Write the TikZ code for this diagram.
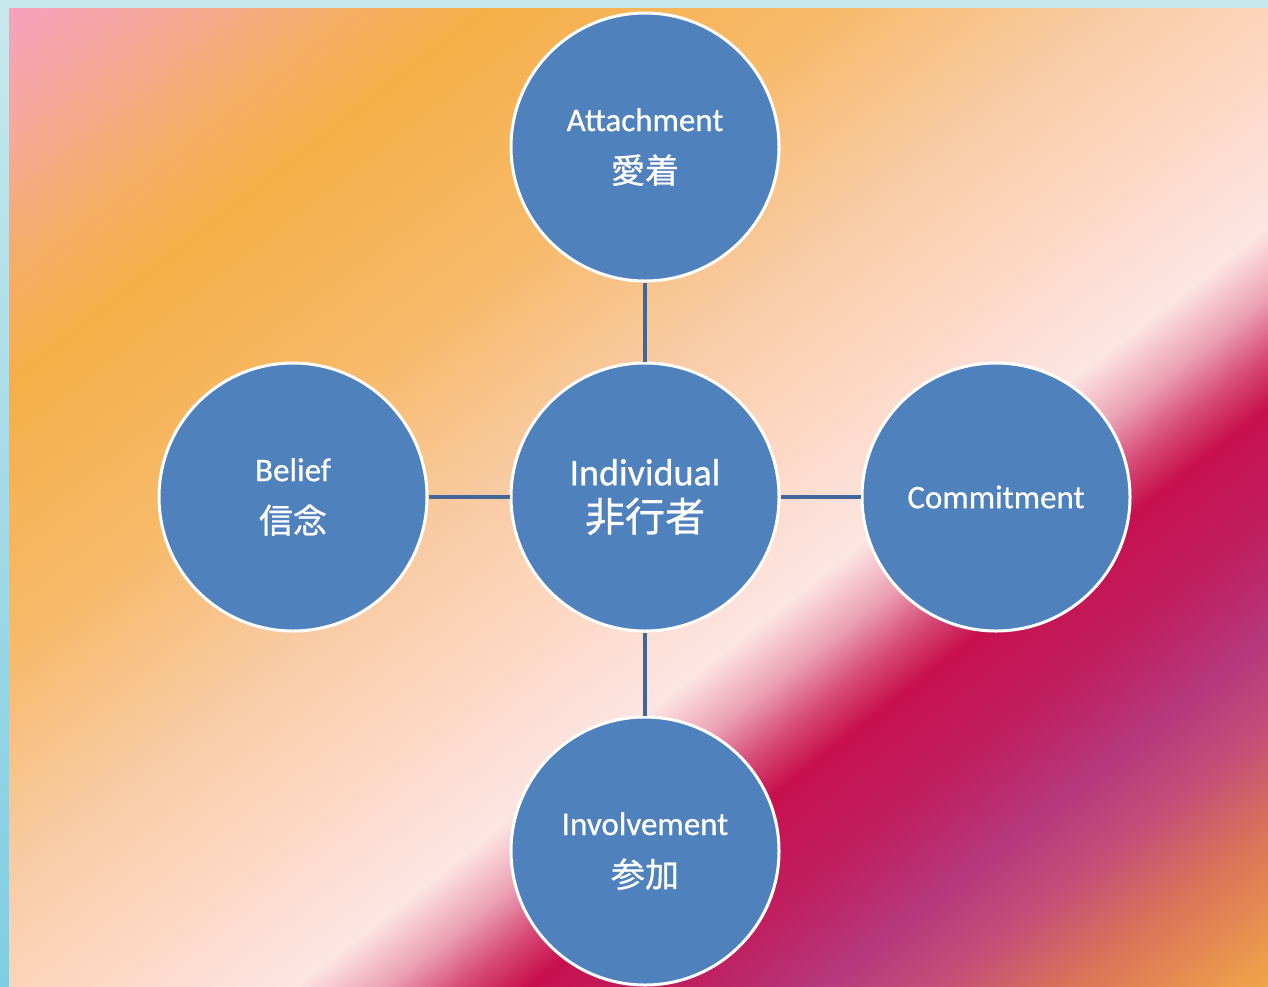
\documentclass[tikz,border=0pt]{standalone}
\usepackage{fontspec}
\setmainfont{Carlito}[FakeBold=0.6]
\newfontfamily\cjk{Noto Sans CJK JP}[FakeBold=0.8]

% background gradient stops
\definecolor{c0}{HTML}{F9A0C4}
\definecolor{c1}{HTML}{F7A89A}
\definecolor{c2}{HTML}{F6AD68}
\definecolor{c3}{HTML}{F6AF48}
\definecolor{c4}{HTML}{F7BA6A}
\definecolor{c5}{HTML}{F9CBA3}
\definecolor{c6}{HTML}{FCD8C4}
\definecolor{c7}{HTML}{FDE5E3}
\definecolor{c8}{HTML}{EBA0B5}
\definecolor{c9}{HTML}{D84E7A}
\definecolor{c10}{HTML}{C8104E}
\definecolor{c11}{HTML}{BF2060}
\definecolor{c12}{HTML}{B6377D}
\definecolor{c13}{HTML}{C54E78}
\definecolor{c14}{HTML}{DA735A}
\definecolor{c15}{HTML}{F0A848}

\definecolor{bubblefill}{HTML}{4F81BD}
\definecolor{linkblue}{HTML}{41679A}
\definecolor{framecyan}{HTML}{C8E8EC}
\definecolor{framecyandark}{HTML}{80CDE2}

\begin{document}
\begin{tikzpicture}[x=1pt,y=-1pt,
  bubble/.style={circle, draw=white, line width=3pt, fill=bubblefill,
    minimum size=268pt, inner sep=0pt, text=white, align=center,
    font=\fontsize{33}{52}\selectfont},
  hub/.style={bubble, font=\fontsize{38}{46}\selectfont},
  link/.style={draw=linkblue, line width=3.5pt}]

\useasboundingbox (0,0) rectangle (1268,986);

% frame strips
\fill[framecyan] (0,0) rectangle (1268,8);
\shade[top color=framecyan, bottom color=framecyandark] (0,0) rectangle (9,986);

% diagonal multi-stop gradient built from thin strips (t = x + 1.28 y)
\begin{scope}
  \clip (9,8) rectangle (1268,986);
  \foreach \ta/\tb/\ca/\cb in {0/180/c0/c1, 180/350/c1/c2, 350/500/c2/c3,
      500/840/c3/c4, 840/1120/c4/c5, 1120/1350/c5/c6, 1350/1560/c6/c7,
      1560/1650/c7/c8, 1650/1720/c8/c9, 1720/1790/c9/c10, 1790/1950/c10/c11,
      1950/2080/c11/c12, 2080/2200/c12/c13, 2200/2330/c13/c14, 2330/2540/c14/c15}{
    \pgfmathtruncatemacro\n{max(1,round((\tb-\ta)/4))}
    \pgfmathsetmacro\dt{(\tb-\ta)/\n}
    \foreach \i in {1,...,\n}{
      \pgfmathsetmacro\p{100/\n*(\i-0.5)}
      \pgfmathsetmacro\sa{\ta+\dt*(\i-1)}
      \pgfmathsetmacro\sb{\ta+\dt*\i+1.5}
      \colorlet{stripcol}{\cb!\p!\ca}
      \fill[stripcol] (\sa,0) -- (\sb,0) -- (\sb-1280,1000) -- (\sa-1280,1000) -- cycle;
    }
  }
\end{scope}

% circles
\node[hub] (ind) at (645,497) {Individual\\{\cjk\fontsize{40}{46}\selectfont 非行者}};
\node[bubble] (att) at (645,147) {Attachment\\{\cjk\fontsize{34}{52}\selectfont 愛着}};
\node[bubble] (bel) at (293,497) {Belief\\{\cjk\fontsize{34}{52}\selectfont 信念}};
\node[bubble] (com) at (996,497) {Commitment};
\node[bubble] (inv) at (645,851) {Involvement\\{\cjk\fontsize{34}{52}\selectfont 参加}};

% connectors
\draw[link] (att) -- (ind);
\draw[link] (bel) -- (ind);
\draw[link] (com) -- (ind);
\draw[link] (inv) -- (ind);
\end{tikzpicture}
\end{document}
